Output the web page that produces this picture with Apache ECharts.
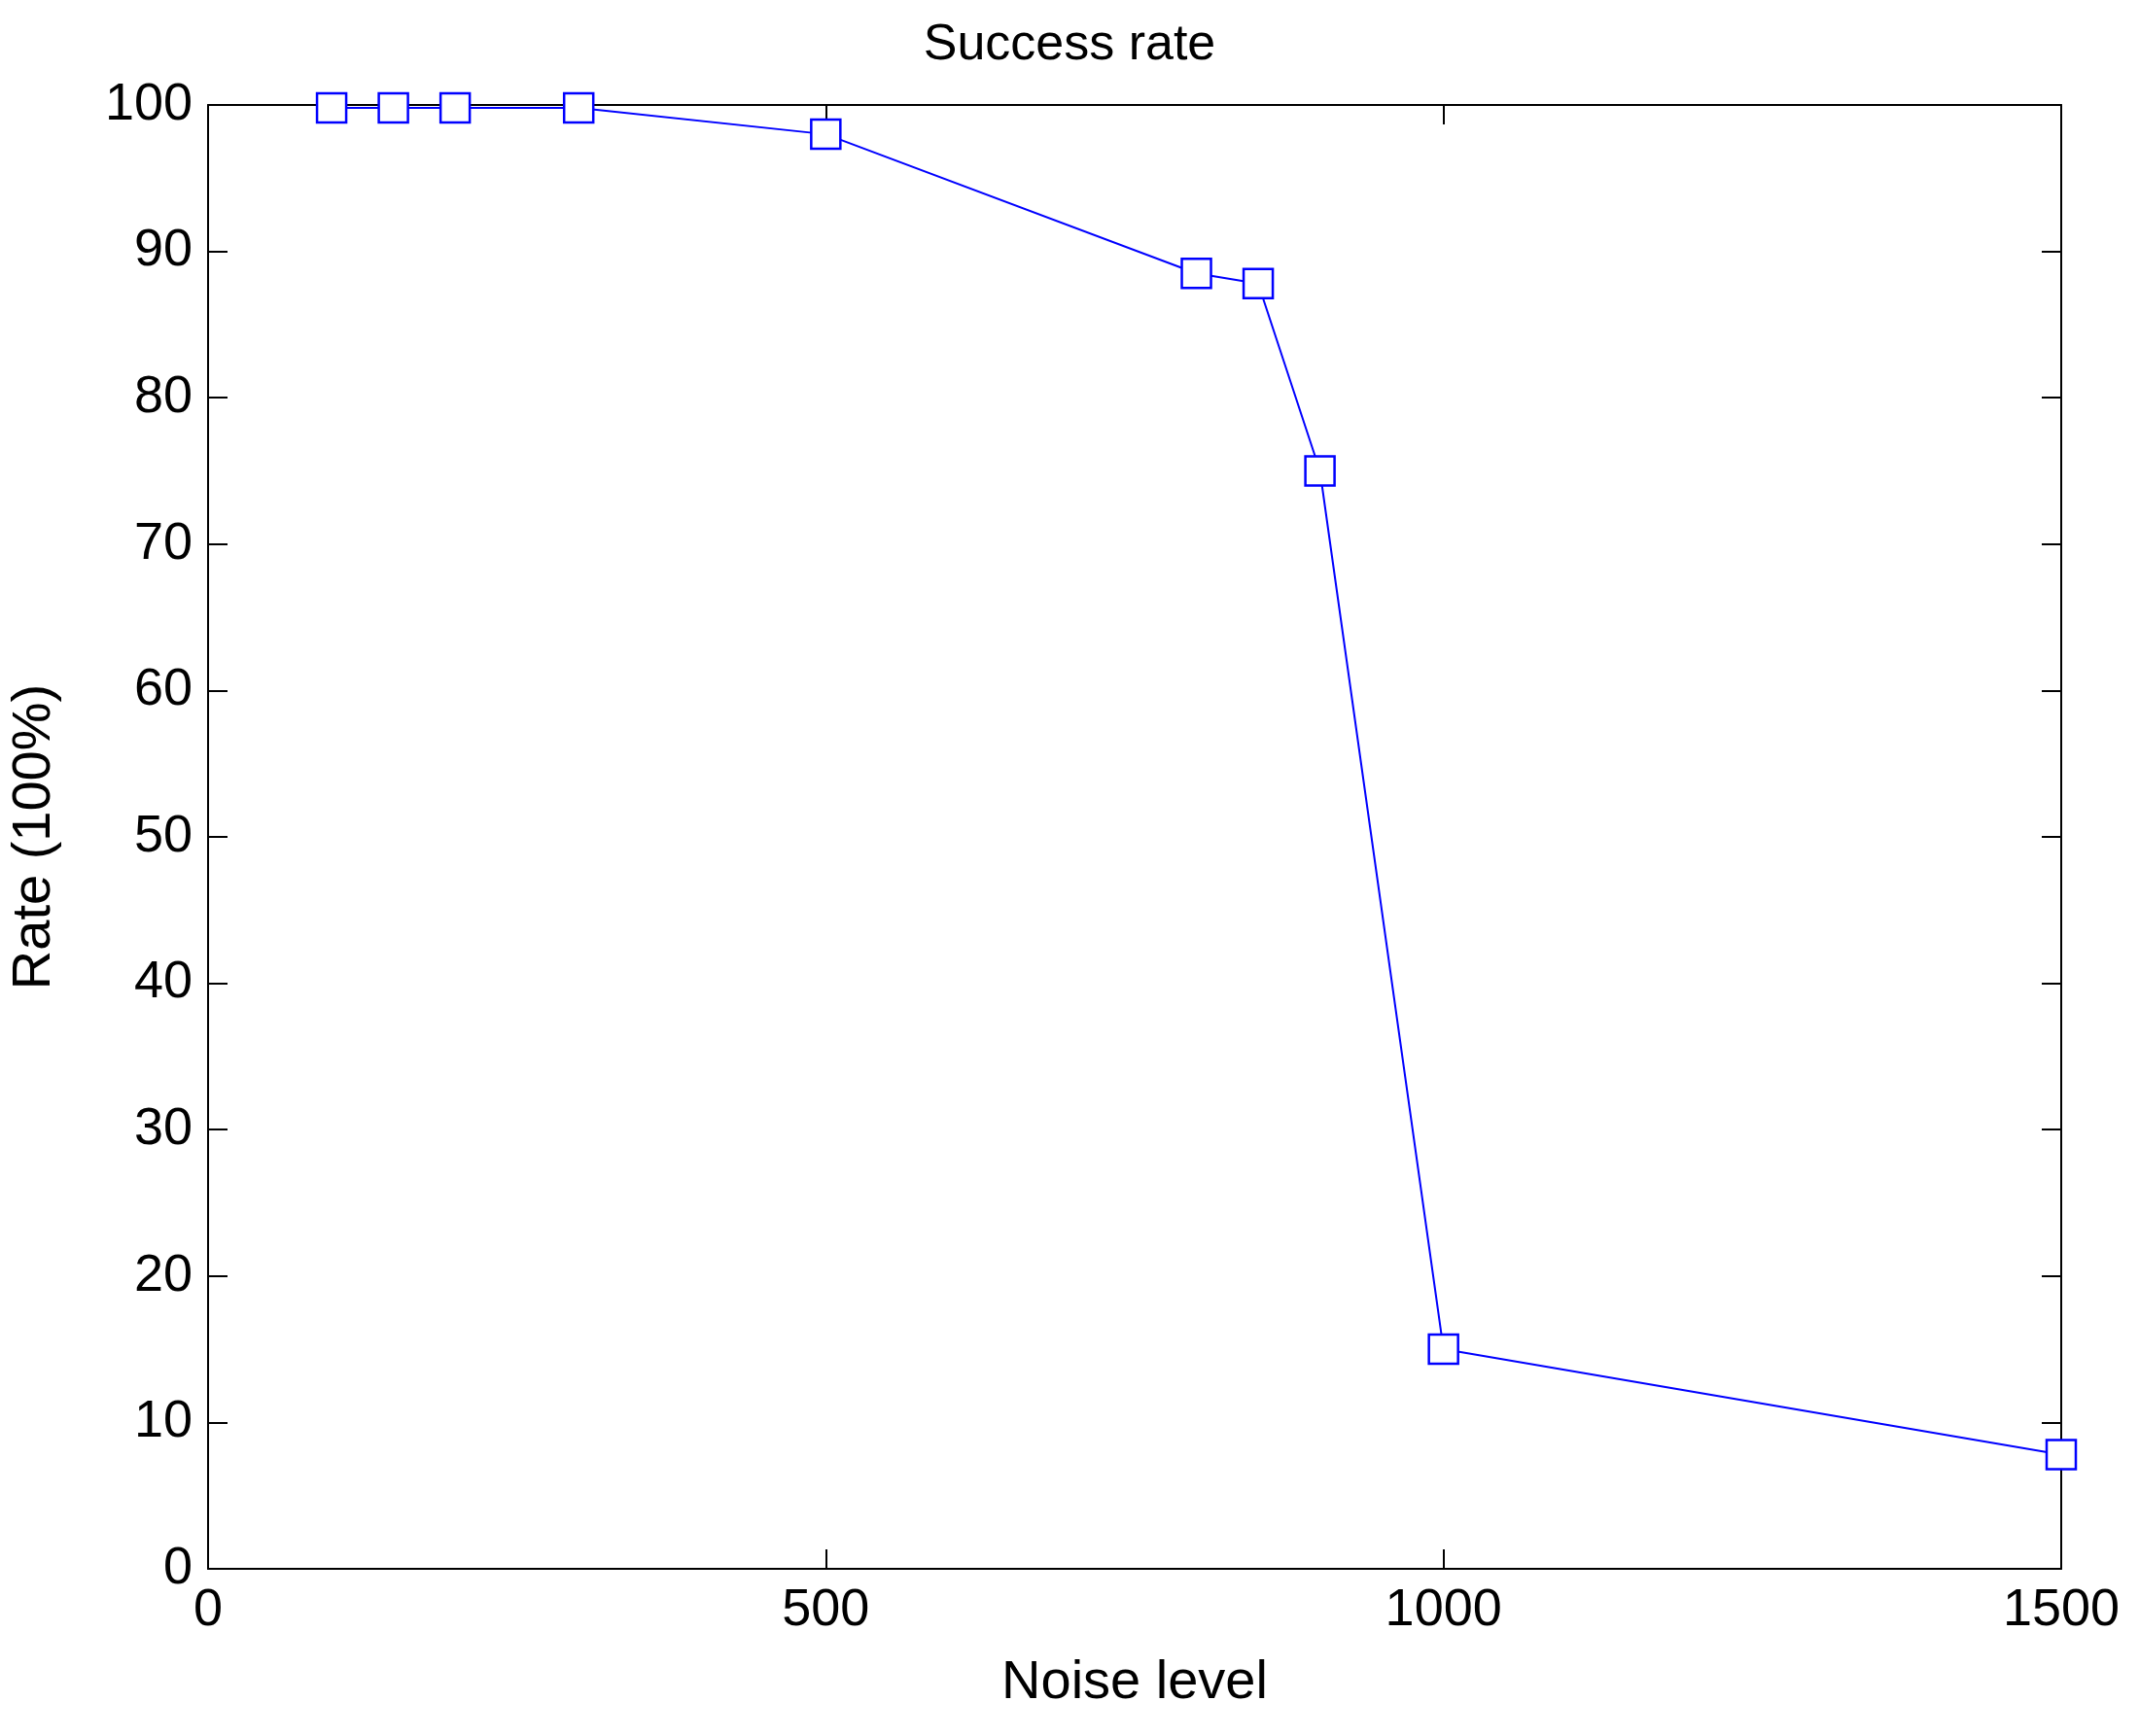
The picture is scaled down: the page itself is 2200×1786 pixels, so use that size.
<!DOCTYPE html>
<html><head><meta charset="utf-8">
<script src="https://cdn.jsdelivr.net/npm/echarts@6/dist/echarts.min.js"></script>
<style>html,body{margin:0;padding:0;background:#fff}#c{width:2200px;height:1786px}</style>
</head><body><div id="c"></div>
<script>
const noiseLevels = [100, 150, 200, 300, 500, 800, 850, 900, 1000, 1500];
const successRates = [99.8, 99.8, 99.8, 99.8, 98, 88.5, 87.8, 75, 15, 7.8];
const chart = echarts.init(document.getElementById('c'));
const font = 'Liberation Sans, Arial, sans-serif';
const axisCommon = {
  axisLine: {show: true, onZero: false, lineStyle: {color: '#000', width: 2}},
  axisTick: {show: true, inside: true, length: 20, lineStyle: {color: '#000', width: 2}},
  splitLine: {show: false}
};
chart.setOption({
  animation: false,
  backgroundColor: '#fff',
  title: {text: 'Success rate', left: 'center', top: 16, textStyle: {fontFamily: font, fontWeight: 'normal', fontSize: 52, color: '#000'}},
  grid: {left: 213, right: 80, top: 108, bottom: 172},
  xAxis: [
    Object.assign({type: 'value', min: 0, max: 1500, interval: 500, position: 'bottom',
      name: 'Noise level', nameLocation: 'middle', nameGap: 90,
      nameTextStyle: {fontFamily: font, fontSize: 56, color: '#000'},
      axisLabel: {fontFamily: font, fontSize: 54, color: '#000', margin: 16, formatter: v => String(v)}}, axisCommon),
    Object.assign({type: 'value', min: 0, max: 1500, interval: 500, position: 'top',
      axisLabel: {show: false}}, axisCommon)
  ],
  yAxis: [
    Object.assign({type: 'value', min: 0, max: 100, interval: 10, position: 'left',
      name: 'Rate (100%)', nameLocation: 'middle', nameGap: 150,
      nameTextStyle: {fontFamily: font, fontSize: 56, color: '#000'},
      axisLabel: {fontFamily: font, fontSize: 54, color: '#000', margin: 16}}, axisCommon),
    Object.assign({type: 'value', min: 0, max: 100, interval: 10, position: 'right',
      axisLabel: {show: false}}, axisCommon)
  ],
  series: [{
    type: 'line',
    data: noiseLevels.map((x, i) => [x, successRates[i]]),
    symbol: 'rect', symbolSize: 30,
    itemStyle: {color: '#fff', borderColor: '#0000ff', borderWidth: 2.5},
    lineStyle: {color: '#0000ff', width: 2}
  }]
});
</script></body></html>
